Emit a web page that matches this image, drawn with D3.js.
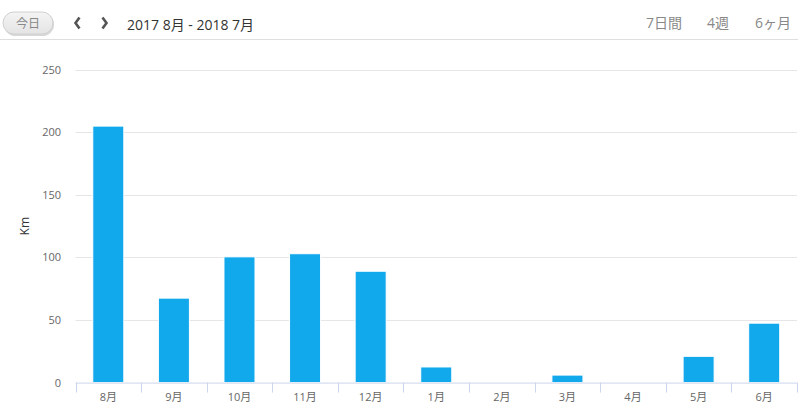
<!DOCTYPE html>
<html><head><meta charset="utf-8">
<script src="https://cdn.jsdelivr.net/npm/d3@7/dist/d3.min.js"></script>
<style>
body{margin:0;background:#fff;}
svg{display:block;font-family:"Open Sans","Noto Sans CJK JP",sans-serif;}
</style></head>
<body>
<script>
const categories = ["8月","9月","10月","11月","12月","1月","2月","3月","4月","5月","6月"];
const distanceKm = [205, 67.5, 100.5, 103, 89, 12.5, 0, 6, 0, 21, 47.5];
const yTicks = [0, 50, 100, 150, 200, 250];
const yAxisTitle = "Km";
const headerTitle = "2017 8月 - 2018 7月";
const todayLabel = "今日";
const rangeButtons = ["7日間", "4週", "6ヶ月"];

(function(){
const W = 798, H = 409;
const svg = d3.select("body").append("svg").attr("width", W).attr("height", H);

// header
const defs = svg.append("defs");
const g1 = defs.append("linearGradient").attr("id","btn").attr("x1",0).attr("y1",0).attr("x2",0).attr("y2",1);
g1.append("stop").attr("offset","0%").attr("stop-color","#f4f4f4");
g1.append("stop").attr("offset","100%").attr("stop-color","#e4e4e4");
svg.append("rect").attr("x",4).attr("y",13).attr("width",50).attr("height",23).attr("rx",11.5)
  .attr("fill","#d8d8d8");
svg.append("rect").attr("x",3).attr("y",12).attr("width",50).attr("height",22).attr("rx",11)
  .attr("fill","url(#btn)").attr("stroke","#d0d0d0");
svg.append("text").attr("x",28).attr("y",27.5).attr("text-anchor","middle")
  .attr("font-size",12).attr("fill","#888").text(todayLabel);
svg.append("path").attr("d","M79.5,17.5 L75.5,23 L79.5,28.5").attr("fill","none")
  .attr("stroke","#555").attr("stroke-width",2.6);
svg.append("path").attr("d","M102.5,17.5 L106.5,23 L102.5,28.5").attr("fill","none")
  .attr("stroke","#555").attr("stroke-width",2.6);
svg.append("text").attr("x",127).attr("y",29.5).attr("font-size",14).attr("fill","#333").text(headerTitle);
const rbX = [646, 707, 755];
rangeButtons.forEach((t,i)=>{
  svg.append("text").attr("x",rbX[i]).attr("y",28).attr("font-size",14).attr("fill","#888").text(t);
});
svg.append("line").attr("x1",0).attr("x2",W).attr("y1",39.5).attr("y2",39.5)
  .attr("stroke","#dedede");

// chart
const pLeft = 75.5, pRight = 797, pTop = 69.8, pBottom = 382.6;
const x = d3.scaleBand().domain(categories).range([pLeft, pRight]).paddingInner(0.527).paddingOuter(0.2635);
const xb = d3.scaleBand().domain(categories).range([pLeft, pRight]);
const y = d3.scaleLinear().domain([0, 250]).range([pBottom, pTop]);

svg.append("g").selectAll("line").data(yTicks.filter(d=>d>0)).join("line")
  .attr("x1",pLeft).attr("x2",pRight)
  .attr("y1",d=>Math.round(y(d))+0.5).attr("y2",d=>Math.round(y(d))+0.5)
  .attr("stroke","#e6e6e6");

svg.append("g").selectAll("text").data(yTicks).join("text")
  .attr("x",61).attr("y",d=>y(d)+4).attr("text-anchor","end")
  .attr("font-size",11).attr("fill","#666").text(d=>d);

svg.append("text").attr("transform",`translate(29,${(pTop+pBottom)/2}) rotate(-90)`)
  .attr("text-anchor","middle").attr("font-size",12).attr("fill","#333").text(yAxisTitle);

svg.append("g").selectAll("rect").data(categories).join("rect")
  .attr("x",(d)=>x(d)).attr("width",x.bandwidth())
  .attr("y",(d,i)=>y(distanceKm[i])).attr("height",(d,i)=>pBottom - y(distanceKm[i]))
  .attr("fill","#11a8ec").attr("stroke","#fff").attr("stroke-width",1);

const ax = svg.append("g");
ax.append("line").attr("x1",pLeft).attr("x2",pRight).attr("y1",pBottom+0.5).attr("y2",pBottom+0.5)
  .attr("stroke","#ccd6eb");
const bounds = categories.map(c=>xb(c)).concat([pRight]);
ax.selectAll("line.t").data(bounds).join("line").attr("class","t")
  .attr("x1",d=>Math.round(d)+0.5).attr("x2",d=>Math.round(d)+0.5)
  .attr("y1",pBottom).attr("y2",pBottom+10).attr("stroke","#ccd6eb");
ax.selectAll("text").data(categories).join("text")
  .attr("x",d=>xb(d)+xb.bandwidth()/2).attr("y",401).attr("text-anchor","middle")
  .attr("font-size",11).attr("fill","#666").text(d=>d);
})();
</script>
</body></html>
